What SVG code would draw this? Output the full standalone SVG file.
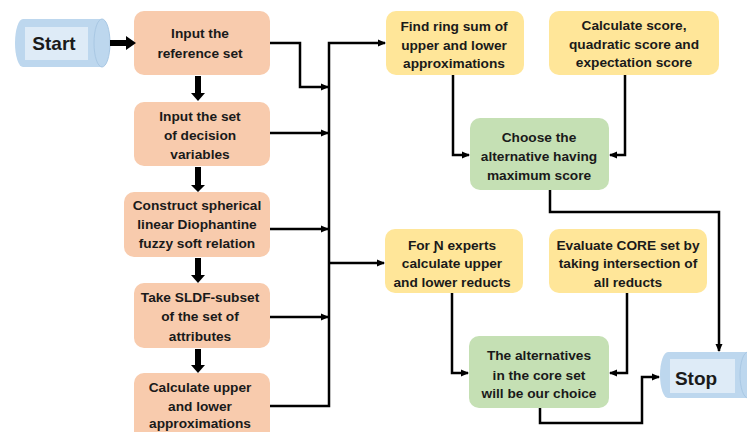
<svg xmlns="http://www.w3.org/2000/svg" width="747" height="432" viewBox="0 0 747 432">
<defs>
<style>
.t{font-family:"Liberation Sans",Arial,sans-serif;font-weight:bold;font-size:13.7px;fill:#1a1a1a;text-anchor:middle}
.big{font-size:19px}
.p{fill:#f8cbad}
.y{fill:#ffe699}
.g{fill:#c5e0b4}
.cyl{fill:#bdd7ee}
.inner{fill:#deebf7}
.c{fill:none;stroke:#000;stroke-width:2.5}
.thick{fill:#000}
</style>
<marker id="ah" markerWidth="8" markerHeight="8" refX="7" refY="4" orient="auto" markerUnits="userSpaceOnUse">
<path d="M0,0.5 L8,4 L0,7.5 Z" fill="#000"/>
</marker>
</defs>
<rect width="747" height="432" fill="#fff"/>

<g id="start">
<path class="cyl" d="M23,19 H102 A8,24 0 0 1 102,67 H23 A8,24 0 0 1 23,19 Z"/>
<ellipse cx="102" cy="43" rx="8" ry="24" fill="none" stroke="#a9c8e4" stroke-width="1"/>
<rect class="inner" x="25" y="27" width="63" height="33"/>
<text class="t big" x="54" y="50">Start</text>
</g>

<g id="n1">
<rect class="p" x="134" y="11" width="136" height="64" rx="10"/>
<text class="t" x="200" y="38">Input the</text>
<text class="t" x="200" y="58">reference set</text>
</g>
<g id="n2">
<rect class="p" x="134" y="102" width="136" height="64" rx="10"/>
<text class="t" x="200" y="121">Input the set</text>
<text class="t" x="200" y="140">of decision</text>
<text class="t" x="200" y="159">variables</text>
</g>
<g id="n3">
<rect class="p" x="124" y="192" width="146" height="65" rx="10"/>
<text class="t" x="197" y="210">Construct spherical</text>
<text class="t" x="197" y="229">linear Diophantine</text>
<text class="t" x="197" y="248">fuzzy soft relation</text>
</g>
<g id="n4">
<rect class="p" x="134" y="283" width="136" height="65" rx="10"/>
<text class="t" x="200" y="302">Take SLDF-subset</text>
<text class="t" x="200" y="321">of the set of</text>
<text class="t" x="200" y="341">attributes</text>
</g>
<g id="n5">
<rect class="p" x="134" y="373" width="136" height="70" rx="10"/>
<text class="t" x="200" y="392">Calculate upper</text>
<text class="t" x="200" y="411">and lower</text>
<text class="t" x="200" y="428">approximations</text>
</g>

<g id="n6">
<rect class="y" x="386" y="11" width="138" height="64" rx="10"/>
<text class="t" x="454" y="31">Find ring sum of</text>
<text class="t" x="454" y="50">upper and lower</text>
<text class="t" x="454" y="68">approximations</text>
</g>
<g id="n7">
<rect class="y" x="549" y="11" width="170" height="64" rx="10"/>
<text class="t" x="634" y="30">Calculate score,</text>
<text class="t" x="634" y="49">quadratic score and</text>
<text class="t" x="634" y="67">expectation score</text>
</g>
<g id="n8">
<rect class="g" x="470" y="118" width="139" height="72" rx="10"/>
<text class="t" x="539" y="142">Choose the</text>
<text class="t" x="539" y="161">alternative having</text>
<text class="t" x="539" y="180">maximum score</text>
</g>
<g id="n9">
<rect class="y" x="385" y="229" width="138" height="64" rx="10"/>
<text class="t" x="452" y="250">For Ɲ experts</text>
<text class="t" x="452" y="268">calculate upper</text>
<text class="t" x="452" y="287">and lower reducts</text>
</g>
<g id="n10">
<rect class="y" x="549" y="229" width="158" height="64" rx="10"/>
<text class="t" x="628" y="250">Evaluate CORE set by</text>
<text class="t" x="628" y="268">taking intersection of</text>
<text class="t" x="628" y="287">all reducts</text>
</g>
<g id="n11">
<rect class="g" x="469" y="336" width="140" height="72" rx="10"/>
<text class="t" x="539" y="360">The alternatives</text>
<text class="t" x="539" y="380">in the core set</text>
<text class="t" x="539" y="398">will be our choice</text>
</g>

<g id="stop">
<path class="cyl" d="M668,352 H760 V398 H668 A8,23 0 0 1 668,352 Z"/>
<ellipse cx="748" cy="375" rx="8" ry="23" fill="none" stroke="#a9c8e4" stroke-width="1"/>
<rect class="inner" x="670" y="359" width="65" height="34"/>
<text class="t big" x="696" y="385">Stop</text>
</g>

<g id="connectors">
<path class="thick" d="M110,40 H126 V36 L136,43 L126,50 V46 H110 Z"/>
<path class="thick" d="M195,76 H201 V93 H205 L198,101 L191,93 H195 Z"/>
<path class="thick" d="M195,167 H201 V185 H205 L198,192 L191,185 H195 Z"/>
<path class="thick" d="M195,258 H201 V275 H205 L198,283 L191,275 H195 Z"/>
<path class="thick" d="M195,349 H201 V365 H205 L198,373 L191,365 H195 Z"/>

<path class="c" d="M270,43 H300 V87 H328" marker-end="url(#ah)"/>
<path class="c" d="M270,133 H328" marker-end="url(#ah)"/>
<path class="c" d="M270,229 H328" marker-end="url(#ah)"/>
<path class="c" d="M270,317 H328" marker-end="url(#ah)"/>
<path class="c" d="M270,406 H329 V43 H385" marker-end="url(#ah)"/>
<path class="c" d="M329,263 H384" marker-end="url(#ah)"/>
<path class="c" d="M453,75 V155 H469" marker-end="url(#ah)"/>
<path class="c" d="M625,75 V155 H610" marker-end="url(#ah)"/>
<path class="c" d="M550,190 V212 H719 V351" marker-end="url(#ah)"/>
<path class="c" d="M452,293 V373 H468" marker-end="url(#ah)"/>
<path class="c" d="M627,293 V373 H610" marker-end="url(#ah)"/>
<path class="c" d="M540,408 V423 H642 V377 H659" marker-end="url(#ah)"/>
</g>
</svg>
